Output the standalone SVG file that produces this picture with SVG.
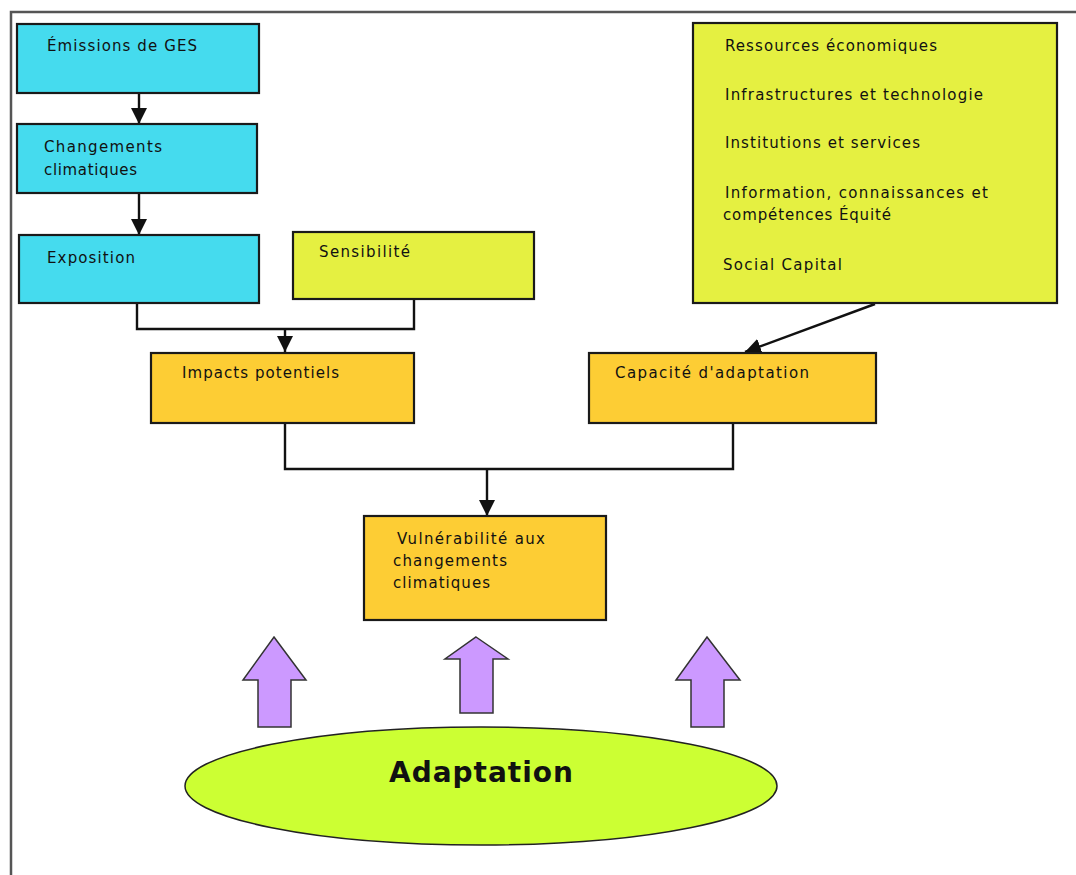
<svg xmlns="http://www.w3.org/2000/svg" width="1076" height="875" viewBox="0 0 1076 875">
  <defs>
    <style>
      .box { stroke: #1a1a1a; stroke-width: 2.2; }
      .cyan { fill: #45dbee; }
      .lime { fill: #e5f041; }
      .amber { fill: #fdcd34; }
      .lbl { font-family: "DejaVu Sans", Verdana, sans-serif; font-size: 15px; fill: #111; }
      .wire { fill: none; stroke: #111; stroke-width: 2.4; }
      .up { fill: #cc99ff; stroke: #333; stroke-width: 1.5; stroke-linejoin: miter; }
    </style>
    <marker id="head" viewBox="0 0 16 16" refX="16" refY="8" markerWidth="16" markerHeight="16" markerUnits="userSpaceOnUse" orient="auto">
      <path d="M0,0 L16,8 L0,16 Z" fill="#111"/>
    </marker>
  </defs>

  <rect width="1076" height="875" fill="#ffffff"/>

  <!-- page frame (left and top rules only) -->
  <path d="M11 875 V12 H1076" fill="none" stroke="#555" stroke-width="2.5"/>

  <!-- connectors -->
  <g id="connectors">
    <path class="wire" d="M139 93 V124" marker-end="url(#head)"/>
    <path class="wire" d="M139 193 V235" marker-end="url(#head)"/>
    <path class="wire" d="M137 303 V329 H414 V299"/>
    <path class="wire" d="M285 329 V352" marker-end="url(#head)"/>
    <path class="wire" d="M875 304 L745 352" marker-end="url(#head)"/>
    <path class="wire" d="M285 423 V469 H733 V423"/>
    <path class="wire" d="M487 469 V516" marker-end="url(#head)"/>
  </g>

  <g id="emissions">
    <rect class="box cyan" x="17" y="24" width="242" height="69"/>
    <text class="lbl" x="47" y="51" textLength="150" lengthAdjust="spacing">Émissions de GES</text>
  </g>

  <g id="changements">
    <rect class="box cyan" x="17" y="124" width="240" height="69"/>
    <text class="lbl" x="44" y="152" textLength="118" lengthAdjust="spacing">Changements</text>
    <text class="lbl" x="44" y="175" textLength="93" lengthAdjust="spacing">climatiques</text>
  </g>

  <g id="exposition">
    <rect class="box cyan" x="19" y="235" width="240" height="68"/>
    <text class="lbl" x="47" y="263" textLength="88" lengthAdjust="spacing">Exposition</text>
  </g>

  <g id="sensibilite">
    <rect class="box lime" x="293" y="232" width="241" height="67"/>
    <text class="lbl" x="319" y="257" textLength="91" lengthAdjust="spacing">Sensibilité</text>
  </g>

  <g id="ressources">
    <rect class="box lime" x="693" y="23" width="364" height="280"/>
    <text class="lbl" x="725" y="51" textLength="212" lengthAdjust="spacing">Ressources économiques</text>
    <text class="lbl" x="725" y="100" textLength="258" lengthAdjust="spacing">Infrastructures et technologie</text>
    <text class="lbl" x="725" y="148" textLength="195" lengthAdjust="spacing">Institutions et services</text>
    <text class="lbl" x="725" y="198" textLength="263" lengthAdjust="spacing">Information, connaissances et</text>
    <text class="lbl" x="723" y="220" textLength="168" lengthAdjust="spacing">compétences Équité</text>
    <text class="lbl" x="723" y="270" textLength="119" lengthAdjust="spacing">Social Capital</text>
  </g>

  <g id="impacts">
    <rect class="box amber" x="151" y="353" width="263" height="70"/>
    <text class="lbl" x="182" y="378" textLength="157" lengthAdjust="spacing">Impacts potentiels</text>
  </g>

  <g id="capacite">
    <rect class="box amber" x="589" y="353" width="287" height="70"/>
    <text class="lbl" x="615" y="378" textLength="194" lengthAdjust="spacing">Capacité d'adaptation</text>
  </g>

  <g id="vulnerabilite">
    <rect class="box amber" x="364" y="516" width="242" height="104"/>
    <text class="lbl" x="397" y="544" textLength="148" lengthAdjust="spacing">Vulnérabilité aux</text>
    <text class="lbl" x="393" y="566" textLength="114" lengthAdjust="spacing">changements</text>
    <text class="lbl" x="393" y="588" textLength="97" lengthAdjust="spacing">climatiques</text>
  </g>

  <!-- block arrows rising from the adaptation ellipse -->
  <g id="arrow-left">
    <path class="up" d="M274 637 L306 680 H291 V727 H258 V680 H243 Z"/>
  </g>
  <g id="arrow-middle">
    <path class="up" d="M476 637 L508 659 H493 V713 H460 V659 H445 Z"/>
  </g>
  <g id="arrow-right">
    <path class="up" d="M707 637 L740 680 H724 V727 H691 V680 H676 Z"/>
  </g>

  <g id="adaptation">
    <ellipse cx="481" cy="786" rx="296" ry="59" fill="#ccff33" stroke="#222" stroke-width="1.5"/>
    <text x="481" y="782" text-anchor="middle" font-family="DejaVu Sans, Verdana, sans-serif" font-size="28" font-weight="bold" fill="#111" textLength="184" lengthAdjust="spacing">Adaptation</text>
  </g>
</svg>
